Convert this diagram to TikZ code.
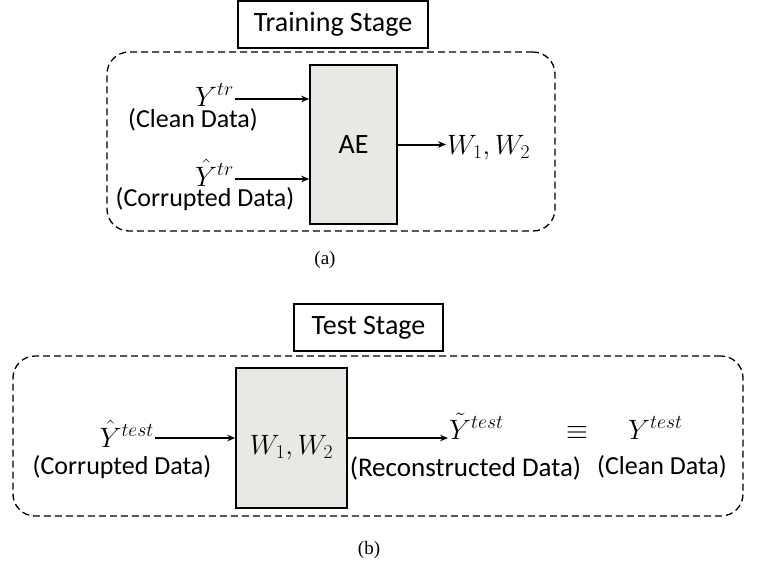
\RequirePackage{fix-cm}
\documentclass[tikz,border=0pt]{standalone}
\usepackage[no-math]{fontspec}
\setmainfont{Carlito}
\newfontfamily\captfont{Liberation Serif}
\usetikzlibrary{arrows.meta,positioning}
\definecolor{boxgray}{RGB}{232,232,228}

\begin{document}
\begin{tikzpicture}[x=1pt, y=-1pt, >={Stealth[length=8pt,width=6.5pt]},
  stagebox/.style={draw, line width=1.3pt, fill=white, minimum height=47pt, font=\fontsize{28}{32}\selectfont},
  dashframe/.style={draw, line width=1.3pt, dash pattern=on 7pt off 4pt, rounded corners=22pt},
  blockbox/.style={draw, line width=1.5pt, fill=boxgray, font=\fontsize{28}{32}\selectfont},
  symb/.style={inner sep=1pt, font=\fontsize{28}{32}\selectfont},
  lbl/.style={inner sep=0pt, font=\fontsize{26}{30}\selectfont},
  arr/.style={->, line width=2pt},
  capt/.style={font=\captfont\fontsize{19}{22}\selectfont}]
\useasboundingbox (0,0) rectangle (758,566);

% (a) training
\node[stagebox, minimum width=190pt] (trainHead) at (333,24.5) {Training Stage};
\node[dashframe, minimum width=448pt, minimum height=179pt] (frameA) at (331,141.5) {};
\node[blockbox, minimum width=87pt, minimum height=159pt] (ae) at (353.5,144.5) {AE};
\foreach \nm/\yb/\sym/\lbl/\lx/\ly in {
    ytr/106/{Y^{tr}}/{(Clean Data)}/193/120,
    yhtr/186/{\hat{Y}^{tr}}/{(Corrupted Data)}/205/199}{
  \node[symb, anchor=base east] (\nm) at (235,\yb) {$\sym$};
  \node[lbl] (\nm-l) at (\lx,\ly) {\lbl};
  \draw[arr] ([yshift=7pt]\nm.base east) -- ([yshift=7pt]\nm.base east -| ae.west);
}
\node[symb, anchor=base west] (wout) at (446,154) {$W_1, W_2$};
\draw[arr] (ae.east) -- (ae.east -| wout.west);
\node[capt] (capA) at (325,260) {(a)};

% (b) test
\node[stagebox, minimum width=149pt] (testHead) at (368.5,327.5) {Test Stage};
\node[dashframe, minimum width=730pt, minimum height=160pt] (frameB) at (378,436) {};
\node[blockbox, minimum width=111pt, minimum height=140pt, text height=37pt, text depth=4pt] (wblk) at (291.5,438) {$W_1, W_2$};
\node[symb, anchor=base east] (yhte) at (155,447) {$\hat{Y}^{test}$};
\node[lbl] (yhte-l) at (122,467) {(Corrupted Data)};
\draw[arr] (wblk.west -| yhte.east) -- (wblk.west);
\node[symb, anchor=base west] (ytil) at (448,439) {$\tilde{Y}^{test}$};
\node[lbl, font=\fontsize{27}{30}\selectfont] (ytil-l) at (465.5,468) {(Reconstructed Data)};
\draw[arr] (wblk.east) -- (wblk.east -| ytil.west);
\node[symb] (eqv) at (577,433) {$\equiv$};
\node[symb, anchor=base west] (yte) at (627,439) {$Y^{test}$};
\node[lbl] (yte-l) at (662,467) {(Clean Data)};
\node[capt] (capB) at (369,550) {(b)};
\end{tikzpicture}
\end{document}
